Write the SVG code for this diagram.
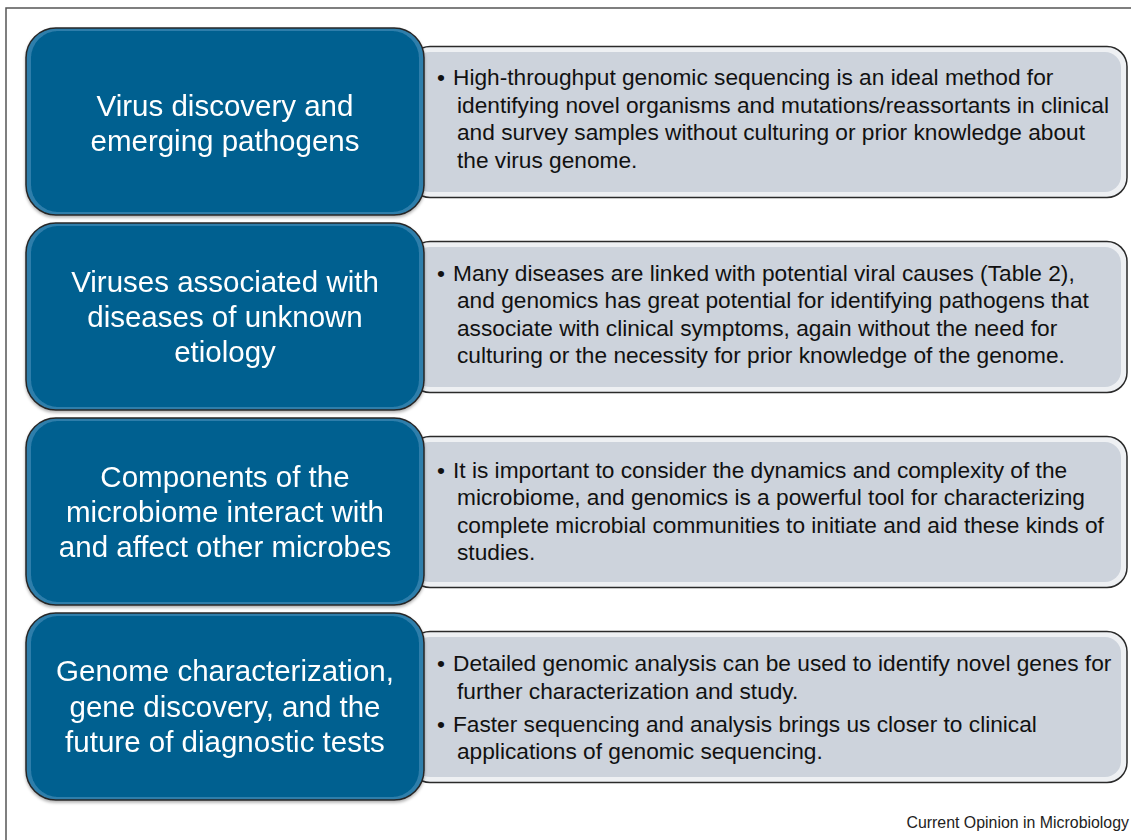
<svg xmlns="http://www.w3.org/2000/svg" width="1131" height="840" viewBox="0 0 1131 840">
<defs>
<style>
.frame{fill:none;stroke:#555;stroke-width:1.5}
.bo{fill:#2f7eab;stroke:#262626;stroke-width:1.5}
.bi{fill:#006190}
.go{fill:#eef0f3;stroke:#2a2a2a;stroke-width:1.5}
.gi{fill:#cdd3dc}
.bt{font-family:"Liberation Sans",Arial,sans-serif;font-size:29.5px;fill:#ffffff;text-anchor:middle}
.gt{font-family:"Liberation Sans",Arial,sans-serif;font-size:22.7px;fill:#111111}
.ft{font-family:"Liberation Sans",Arial,sans-serif;font-size:15.9px;fill:#222222;text-anchor:end}
</style>
<filter id="sh" x="-5%" y="-5%" width="110%" height="115%">
<feDropShadow dx="0" dy="2" stdDeviation="1.5" flood-color="#000" flood-opacity="0.3"/>
</filter>
</defs>
<path class="frame" d="M6,840 V8 H1131"/>

<g id="row1">
<g id="detail1">
<rect class="go" x="410" y="46.5" width="717" height="151" rx="20"/>
<rect class="gi" x="414" y="52" width="707" height="140" rx="16"/>
<text class="gt"><tspan x="437" y="85">•</tspan><tspan x="453" y="85">High-throughput genomic sequencing is an ideal method for</tspan><tspan x="457" y="112.6">identifying novel organisms and mutations/reassortants in clinical</tspan><tspan x="457" y="140.2">and survey samples without culturing or prior knowledge about</tspan><tspan x="457" y="167.8">the virus genome.</tspan></text>
</g>
<g id="topic1" filter="url(#sh)">
<rect class="bo" x="26" y="28" width="398" height="187" rx="30"/>
<rect class="bi" x="31" y="31" width="388" height="181" rx="27"/>
<text class="bt"><tspan x="225" y="115.5">Virus discovery and</tspan><tspan x="225" y="150.5">emerging pathogens</tspan></text>
</g>
</g>

<g id="row2">
<g id="detail2">
<rect class="go" x="410" y="241.5" width="717" height="151" rx="20"/>
<rect class="gi" x="414" y="247" width="707" height="140" rx="16"/>
<text class="gt"><tspan x="437" y="280.5">•</tspan><tspan x="453" y="280.5">Many diseases are linked with potential viral causes (Table 2),</tspan><tspan x="457" y="308.1">and genomics has great potential for identifying pathogens that</tspan><tspan x="457" y="335.7">associate with clinical symptoms, again without the need for</tspan><tspan x="457" y="363.3">culturing or the necessity for prior knowledge of the genome.</tspan></text>
</g>
<g id="topic2" filter="url(#sh)">
<rect class="bo" x="26" y="223" width="398" height="187" rx="30"/>
<rect class="bi" x="31" y="226" width="388" height="181" rx="27"/>
<text class="bt"><tspan x="225" y="292">Viruses associated with</tspan><tspan x="225" y="327">diseases of unknown</tspan><tspan x="225" y="362">etiology</tspan></text>
</g>
</g>

<g id="row3">
<g id="detail3">
<rect class="go" x="410" y="436.5" width="717" height="151" rx="20"/>
<rect class="gi" x="414" y="442" width="707" height="140" rx="16"/>
<text class="gt"><tspan x="437" y="477.5">•</tspan><tspan x="453" y="477.5">It is important to consider the dynamics and complexity of the</tspan><tspan x="457" y="505.1">microbiome, and genomics is a powerful tool for characterizing</tspan><tspan x="457" y="532.7">complete microbial communities to initiate and aid these kinds of</tspan><tspan x="457" y="560.3">studies.</tspan></text>
</g>
<g id="topic3" filter="url(#sh)">
<rect class="bo" x="26" y="418" width="398" height="187" rx="30"/>
<rect class="bi" x="31" y="421" width="388" height="181" rx="27"/>
<text class="bt"><tspan x="225" y="486.5">Components of the</tspan><tspan x="225" y="521.5">microbiome interact with</tspan><tspan x="225" y="556.5">and affect other microbes</tspan></text>
</g>
</g>

<g id="row4">
<g id="detail4">
<rect class="go" x="410" y="631.5" width="717" height="151" rx="20"/>
<rect class="gi" x="414" y="637" width="707" height="140" rx="16"/>
<text class="gt"><tspan x="437" y="670.7">•</tspan><tspan x="453" y="670.7">Detailed genomic analysis can be used to identify novel genes for</tspan><tspan x="457" y="698.8">further characterization and study.</tspan><tspan x="437" y="731.5">•</tspan><tspan x="453" y="731.5">Faster sequencing and analysis brings us closer to clinical</tspan><tspan x="457" y="759.3">applications of genomic sequencing.</tspan></text>
</g>
<g id="topic4" filter="url(#sh)">
<rect class="bo" x="26" y="613" width="398" height="187" rx="30"/>
<rect class="bi" x="31" y="616" width="388" height="181" rx="27"/>
<text class="bt"><tspan x="225" y="681">Genome characterization,</tspan><tspan x="225" y="716.5">gene discovery, and the</tspan><tspan x="225" y="751.5">future of diagnostic tests</tspan></text>
</g>
</g>

<text class="ft" x="1129" y="828">Current Opinion in Microbiology</text>
</svg>
